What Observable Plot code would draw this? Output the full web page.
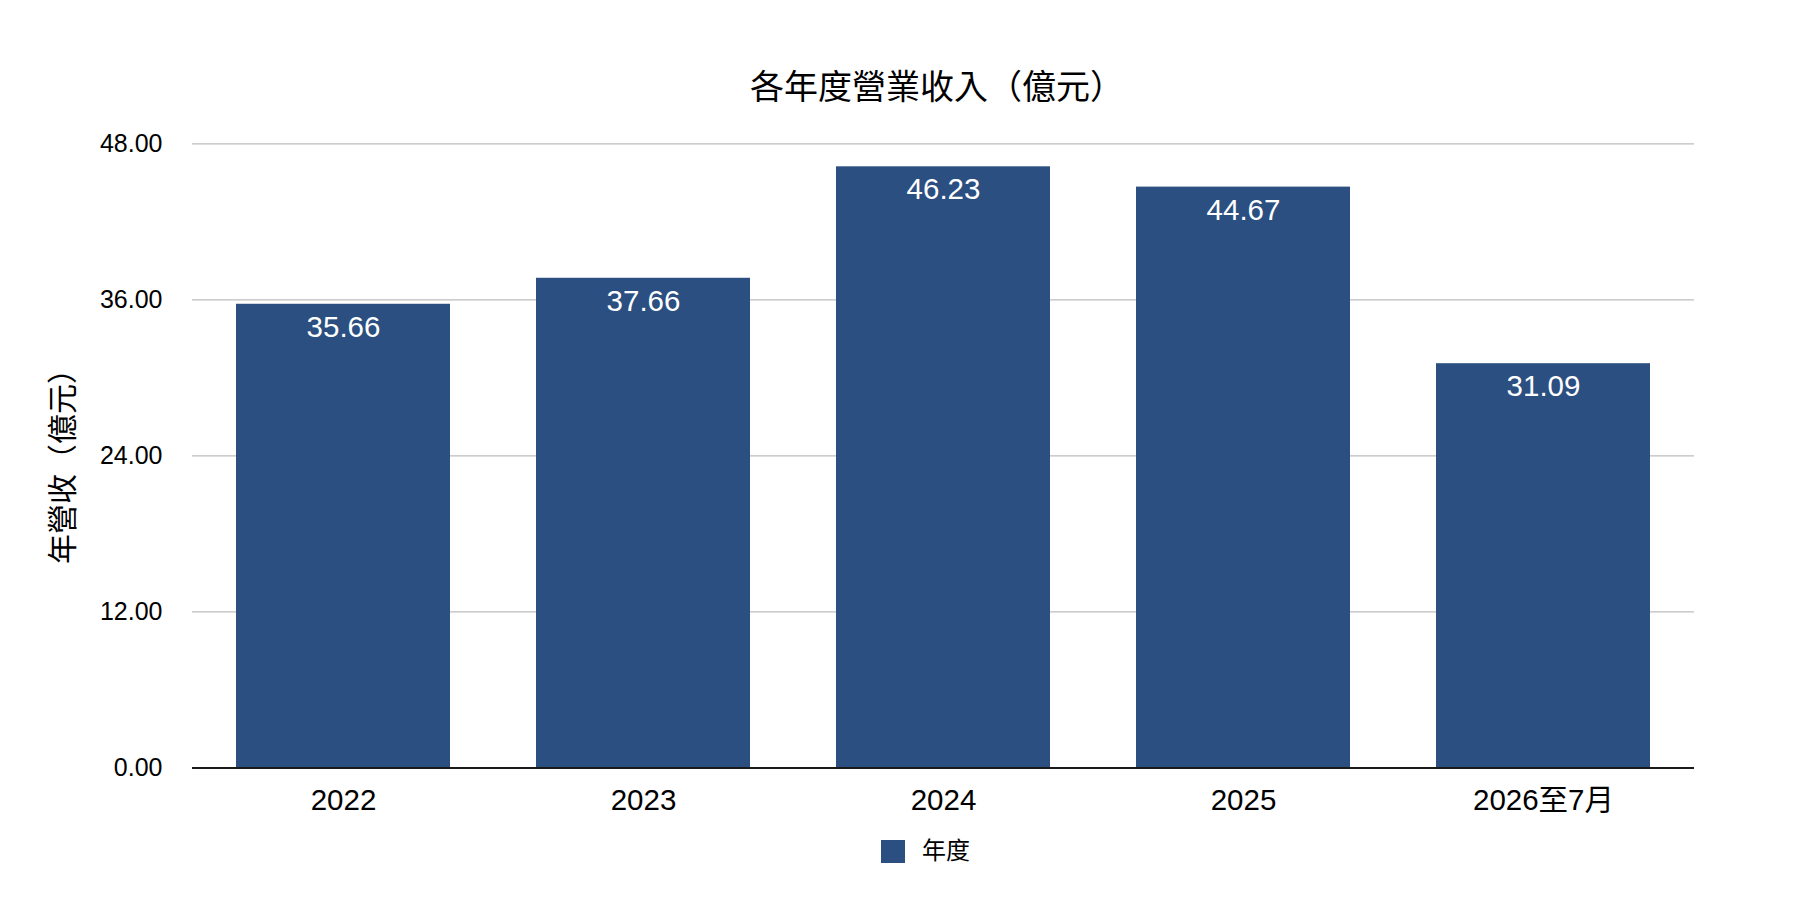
<!DOCTYPE html>
<html>
<head>
<meta charset="utf-8">
<script src="https://cdn.jsdelivr.net/npm/d3@7"></script>
<script src="https://cdn.jsdelivr.net/npm/@observablehq/plot@0.6"></script>
<style>
  html, body { margin: 0; padding: 0; background: #fff; overflow: hidden; }
  body { width: 1798px; height: 906px; font-family: "Liberation Sans", "Noto Sans CJK TC", sans-serif; color: #000; }
  #title { box-sizing: border-box; width: 1798px; height: 120px; padding-top: 66px; padding-left: 76px; text-align: center; font-size: 34px; line-height: 42px; }
  #chart svg { display: block; }
  #legend { display: flex; align-items: center; margin-left: 881px; margin-top: 19px; height: 24px; }
  #legend .sw { width: 24px; height: 23px; }
  #legend .lb { margin-left: 17px; font-size: 24px; line-height: 24px; }
</style>
</head>
<body>
<div id="title"></div>
<div id="chart"></div>
<div id="legend"><div class="sw"></div><div class="lb"></div></div>
<script>
const years = ["2022", "2023", "2024", "2025", "2026至7月"];
const revenue = [35.66, 37.66, 46.23, 44.67, 31.09];
const yTicks = [0, 12, 24, 36, 48];
const titleText = "各年度營業收入（億元）";
const yLabel = "年營收（億元）";
const seriesName = "年度";
const barColor = "#2b4f80";

const data = years.map((y, i) => ({year: y, value: revenue[i]}));

document.getElementById("title").textContent = titleText;
document.querySelector("#legend .sw").style.background = barColor;
document.querySelector("#legend .lb").textContent = seriesName;

const chart = Plot.plot({
  width: 1798,
  height: 700,
  marginTop: 23.3,
  marginBottom: 52.5,
  marginLeft: 192,
  marginRight: 104,
  style: {fontFamily: '"Liberation Sans", "Noto Sans CJK TC", sans-serif', background: "white", color: "#000", overflow: "visible"},
  x: {domain: years, paddingInner: 0.2876, paddingOuter: 0.1438, label: null},
  y: {domain: [0, 48], ticks: yTicks, label: null},
  marks: [
    Plot.gridY(yTicks, {stroke: "#bdbdbd", strokeOpacity: 1, strokeWidth: 1.2}),
    Plot.barY(data, {x: "year", y: "value", fill: barColor}),
    Plot.ruleY([0], {stroke: "#1a1a1a", strokeWidth: 2.2}),
    Plot.axisY(yTicks, {tickSize: 0, tickPadding: 30, tickFormat: d => d.toFixed(2), fontSize: 25, fill: "#000", label: null}),
    Plot.axisX({tickSize: 0, tickPadding: 21, fontSize: 29.5, fill: "#000", label: null}),
    Plot.text(data, {x: "year", y: "value", text: d => d.value.toFixed(2), fill: "white", dy: 23, fontSize: 29.5}),
    Plot.text([yLabel], {frameAnchor: "left", textAnchor: "middle", lineAnchor: "middle", dx: -129, dy: 3, rotate: -90, fontSize: 30, fill: "#000"})
  ]
});
document.getElementById("chart").appendChild(chart);
</script>
</body>
</html>
